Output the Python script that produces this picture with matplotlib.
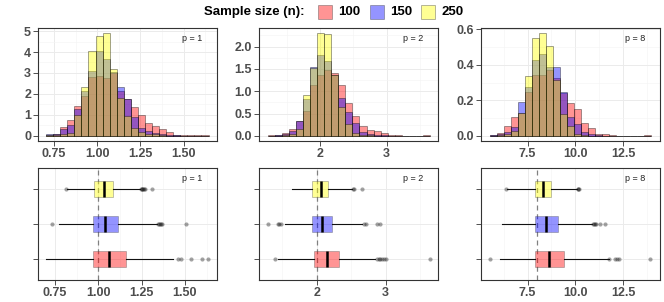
import matplotlib
matplotlib.use("Agg")
import matplotlib.pyplot as plt
import numpy as np
from matplotlib.patches import Rectangle
from matplotlib.ticker import FixedLocator

plt.rcParams["font.family"] = ["Liberation Sans", "DejaVu Sans"]

# ---- data ----
SIZES = ["100", "150", "250"]
COLORS = ["#FF0000", "#0000FF", "#FFFF00"]
P_LABELS = ["p = 1", "p = 2", "p = 8"]
TRUE_VALUES = [1.0, 2.0, 8.0]

# histogram bin ranges (23 equal bins each)
hist_range_p1 = (0.705, 1.644)
hist_range_p2 = (1.216, 3.650)
hist_range_p8 = (5.510, 13.960)

# densities, one list per sample size
dens_p1_100 = [0.05, 0.08, 0.40, 0.76, 1.43, 1.91, 2.82, 2.85, 2.78, 3.02, 2.12, 1.78,
               1.40, 1.00, 0.59, 0.49, 0.35, 0.19, 0.06, 0.04, 0.02, 0.03, 0.02]
dens_p1_150 = [0.08, 0.10, 0.32, 0.52, 1.29, 2.15, 3.10, 4.03, 3.66, 3.05, 2.31, 1.74,
               0.91, 0.37, 0.24, 0.16, 0.10, 0.04, 0.03, 0.01, 0.0, 0.01, 0.0]
dens_p1_250 = [0.02, 0.03, 0.10, 0.14, 1.00, 2.31, 4.06, 4.78, 4.90, 3.18, 1.80, 0.96,
               0.37, 0.19, 0.10, 0.08, 0.03, 0.01, 0.0, 0.0, 0.0, 0.0, 0.0]

dens_p2_100 = [0.01, 0.02, 0.07, 0.16, 0.33, 0.56, 1.15, 1.36, 1.47, 1.41, 1.14, 0.74,
               0.45, 0.21, 0.13, 0.10, 0.06, 0.02, 0.01, 0.0, 0.0, 0.0, 0.01]
dens_p2_150 = [0.0, 0.01, 0.04, 0.10, 0.34, 0.83, 1.54, 1.82, 1.67, 1.37, 0.84, 0.54,
               0.28, 0.09, 0.05, 0.02, 0.01, 0.0, 0.0, 0.0, 0.0, 0.0, 0.0]
dens_p2_250 = [0.0, 0.0, 0.01, 0.04, 0.16, 0.92, 1.52, 2.30, 2.27, 1.36, 0.65, 0.26,
               0.06, 0.02, 0.01, 0.0, 0.0, 0.0, 0.0, 0.0, 0.0, 0.0, 0.0]

dens_p8_100 = [0.005, 0.015, 0.054, 0.107, 0.13, 0.247, 0.342, 0.342, 0.368, 0.327, 0.239, 0.187,
               0.153, 0.075, 0.047, 0.013, 0.011, 0.005, 0.0, 0.0, 0.0, 0.0, 0.003]
dens_p8_150 = [0.003, 0.008, 0.024, 0.05, 0.189, 0.275, 0.426, 0.462, 0.387, 0.387, 0.247, 0.107,
               0.065, 0.019, 0.013, 0.004, 0.002, 0.0, 0.0, 0.0, 0.0, 0.0, 0.0]
dens_p8_250 = [0.0, 0.003, 0.013, 0.03, 0.13, 0.336, 0.548, 0.578, 0.505, 0.314, 0.125, 0.056,
               0.013, 0.004, 0.002, 0.0, 0.0, 0.0, 0.0, 0.0, 0.0, 0.0, 0.0]

# box plot summaries: (whislo, q1, median, q3, whishi), outliers
box_p1_100 = (0.698, 0.971, 1.063, 1.160, 1.433)
fliers_p1_100 = [1.458, 1.477, 1.533, 1.597, 1.635]
box_p1_150 = (0.775, 0.971, 1.040, 1.112, 1.337)
fliers_p1_150 = [0.731, 1.342, 1.350, 1.356, 1.362, 1.368, 1.506]
box_p1_250 = (0.820, 0.977, 1.033, 1.083, 1.241)
fliers_p1_250 = [0.812, 1.245, 1.250, 1.255, 1.260, 1.265, 1.270, 1.308]

box_p2_100 = (1.444, 1.966, 2.145, 2.323, 2.845)
fliers_p2_100 = [1.396, 2.870, 2.900, 2.920, 2.950, 2.970, 3.010, 3.640]
box_p2_150 = (1.540, 1.928, 2.072, 2.226, 2.652)
fliers_p2_150 = [1.290, 1.440, 1.460, 1.480, 2.680, 2.720, 2.870, 2.920]
box_p2_250 = (1.638, 1.936, 2.058, 2.168, 2.507)
fliers_p2_250 = [2.520, 2.540, 2.652]

box_p8_100 = (6.07, 7.90, 8.64, 9.41, 11.75)
fliers_p8_100 = [5.51, 11.79, 12.07, 12.19, 12.30, 13.91]
box_p8_150 = (6.17, 7.87, 8.44, 9.09, 10.88)
fliers_p8_150 = [10.93, 10.98, 11.03, 11.10, 11.27, 11.57]
box_p8_250 = (6.42, 7.87, 8.31, 8.74, 10.09)
fliers_p8_250 = [6.37, 10.12, 10.16, 10.20]

# axis setup per panel
hist_xlims = [(0.658, 1.693), (1.085, 3.770), (5.06, 14.44)]
box_xlims = [(0.652, 1.685), (1.164, 3.758), (5.06, 14.44)]
x_major = [[0.75, 1.00, 1.25, 1.50], [2, 3], [7.5, 10.0, 12.5]]
x_labels = [["0.75", "1.00", "1.25", "1.50"], ["2", "3"], ["7.5", "10.0", "12.5"]]
x_minor = [[0.625, 0.875, 1.125, 1.375, 1.625], [1.5, 2.5, 3.5], [6.25, 8.75, 11.25, 13.75]]
y_major = [[0, 1, 2, 3, 4, 5], [0.0, 0.5, 1.0, 1.5, 2.0], [0.0, 0.2, 0.4, 0.6]]
y_labels = [["0", "1", "2", "3", "4", "5"], ["0.0", "0.5", "1.0", "1.5", "2.0"],
            ["0.0", "0.2", "0.4", "0.6"]]
y_minor = [[0.5, 1.5, 2.5, 3.5, 4.5], [0.25, 0.75, 1.25, 1.75, 2.25], [0.1, 0.3, 0.5]]

hist_ranges = [hist_range_p1, hist_range_p2, hist_range_p8]
hist_dens = [[dens_p1_100, dens_p1_150, dens_p1_250],
             [dens_p2_100, dens_p2_150, dens_p2_250],
             [dens_p8_100, dens_p8_150, dens_p8_250]]
box_stats = [[box_p1_100, box_p1_150, box_p1_250],
             [box_p2_100, box_p2_150, box_p2_250],
             [box_p8_100, box_p8_150, box_p8_250]]
box_fliers = [[fliers_p1_100, fliers_p1_150, fliers_p1_250],
              [fliers_p2_100, fliers_p2_150, fliers_p2_250],
              [fliers_p8_100, fliers_p8_150, fliers_p8_250]]

ALPHA = 0.42
W, H = 664, 302
GRID = "#EBEBEB"
BORDER = "#333333"
TXT = "#4D4D4D"


def px_axes(fig, x0, x1, ytop, ybot):
    return fig.add_axes([x0 / W, 1 - ybot / H, (x1 - x0) / W, (ybot - ytop) / H])


def style(ax, i):
    ax.set_axisbelow(True)
    for s in ax.spines.values():
        s.set_color(BORDER)
        s.set_linewidth(0.8)
    ax.xaxis.set_major_locator(FixedLocator(x_major[i]))
    ax.xaxis.set_minor_locator(FixedLocator(x_minor[i]))
    ax.set_xticklabels(x_labels[i])
    ax.tick_params(which="major", length=3.5, width=0.6, color=BORDER,
                   labelsize=9, labelcolor=TXT, pad=1.5)
    ax.tick_params(which="minor", length=0)
    for lab in ax.get_xticklabels() + ax.get_yticklabels():
        lab.set_fontweight("bold")
    ax.grid(which="major", color=GRID, lw=0.7)
    ax.grid(which="minor", color="#F4F4F4", lw=0.4)


fig = plt.figure(figsize=(W / 100, H / 100), dpi=100)

cols = [(38, 217), (259, 438), (481, 660)]
for i in range(3):
    x0, x1 = cols[i]
    # histogram row
    ax = px_axes(fig, x0, x1, 28, 141)
    lo, hi = hist_ranges[i]
    edges = np.linspace(lo, hi, 24)
    width = edges[1] - edges[0]
    ymax = 0
    for dens, c in zip(hist_dens[i], COLORS):
        ax.bar(edges[:-1], dens, width=width, align="edge", color=c, alpha=ALPHA,
               edgecolor=(0, 0, 0, 0.55), linewidth=0.6)
        ymax = max(ymax, max(dens))
    ax.set_xlim(*hist_xlims[i])
    ax.set_ylim(-0.05 * ymax, 1.05 * ymax)
    ax.yaxis.set_major_locator(FixedLocator(y_major[i]))
    ax.yaxis.set_minor_locator(FixedLocator(y_minor[i]))
    ax.set_yticklabels(y_labels[i])
    style(ax, i)
    ax.text(0.86, 0.91, P_LABELS[i], transform=ax.transAxes, ha="center", va="center",
            fontsize=6.5, color="#222222")

    # box plot row
    bx = px_axes(fig, x0, x1, 168, 280)
    stats = []
    for (wl, q1, med, q3, wh), fl in zip(box_stats[i], box_fliers[i]):
        stats.append(dict(whislo=wl, q1=q1, med=med, q3=q3, whishi=wh, fliers=fl))
    bp = bx.bxp(stats, positions=[1, 2, 3], widths=0.48, vert=False, patch_artist=True,
                showcaps=False,
                boxprops=dict(edgecolor="#555555", linewidth=0.6),
                whiskerprops=dict(color="#111111", linewidth=0.8),
                medianprops=dict(color="black", linewidth=1.8),
                flierprops=dict(marker="o", markersize=3, markerfacecolor=(0.1, 0.1, 0.1, 0.4),
                                markeredgecolor="none"))
    for patch, c in zip(bp["boxes"], COLORS):
        patch.set_facecolor(c)
        patch.set_alpha(ALPHA)
    bx.axvline(TRUE_VALUES[i], color="#808080", ls=(0, (4, 3)), lw=0.9, zorder=1.5)
    bx.set_xlim(*box_xlims[i])
    bx.set_ylim(0.4, 3.6)
    bx.set_yticks([1, 2, 3])
    bx.set_yticklabels([])
    style(bx, i)
    bx.grid(which="minor", axis="y", visible=False)
    bx.text(0.86, 0.91, P_LABELS[i], transform=bx.transAxes, ha="center", va="center",
            fontsize=6.5, color="#222222")

# legend across the top
fig.text(305 / W, 1 - 12 / H, "Sample size (n):", ha="right", va="center",
         fontsize=9.5, fontweight="bold", color="black")
key_x = [318, 370, 421]
for kx, c, lab in zip(key_x, COLORS, SIZES):
    fig.patches.append(Rectangle((kx / W, 1 - 19 / H), 14 / W, 14 / H, transform=fig.transFigure,
                                 facecolor=c, alpha=ALPHA, edgecolor="#333333", lw=0.6))
    fig.text((kx + 20) / W, 1 - 12 / H, lab, ha="left", va="center", fontsize=9.5,
             fontweight="bold", color="black")

fig.savefig("out.png", dpi=100)
